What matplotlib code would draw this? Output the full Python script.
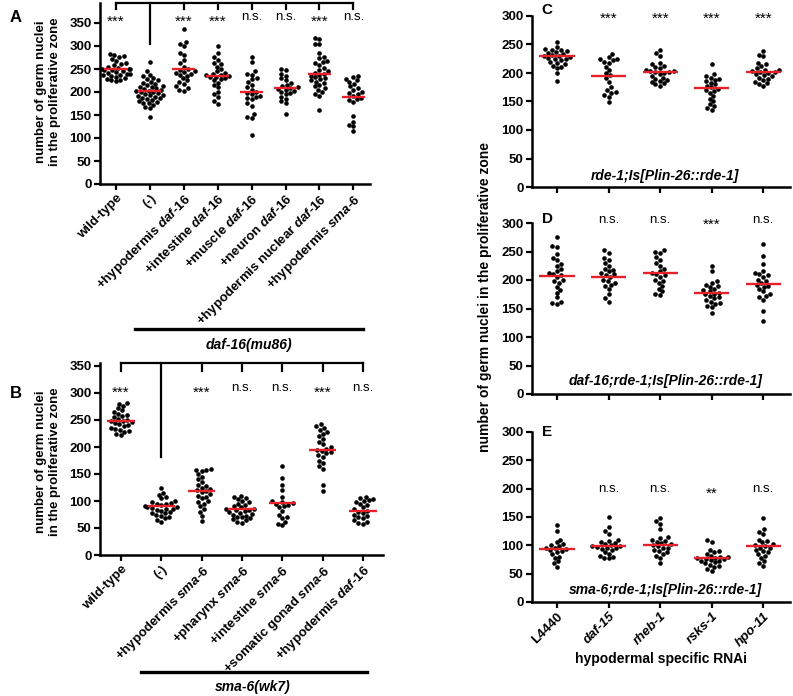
import matplotlib
matplotlib.use('Agg')
import matplotlib.pyplot as plt
import seaborn as sns
import pandas as pd
import warnings
warnings.filterwarnings('ignore')

plt.rcParams['font.family'] = ['Liberation Sans', 'DejaVu Sans']
plt.rcParams['mathtext.fontset'] = 'custom'
plt.rcParams['mathtext.rm'] = 'Liberation Sans:bold'
plt.rcParams['mathtext.it'] = 'Liberation Sans:italic:bold'
plt.rcParams['mathtext.bf'] = 'Liberation Sans:bold'

# ---------------- data ----------------
A_labels = ['wild-type', '(-)', '+hypodermis $\\mathit{daf}$-$\\mathit{16}$',
            '+intestine $\\mathit{daf}$-$\\mathit{16}$', '+muscle $\\mathit{daf}$-$\\mathit{16}$',
            '+neuron $\\mathit{daf}$-$\\mathit{16}$', '+hypodermis nuclear $\\mathit{daf}$-$\\mathit{16}$',
            '+hypodermis $\\mathit{sma}$-$\\mathit{6}$']
A_values = [
    [283, 280, 278, 276, 272, 268, 262, 260, 258, 255, 253, 251, 250, 249, 248, 247, 246, 244, 242, 240, 238, 236, 235, 233, 231, 229, 227, 225, 223, 240],
    [265, 246, 238, 235, 230, 228, 225, 222, 220, 218, 215, 213, 211, 210, 208, 206, 205, 203, 202, 200, 199, 197, 196, 194, 193, 191, 190, 188, 187, 185, 183, 181, 179, 177, 175, 172, 168, 165, 145],
    [337, 309, 305, 300, 285, 280, 270, 262, 255, 250, 248, 246, 244, 242, 240, 238, 235, 230, 225, 222, 218, 212, 205, 203, 208],
    [300, 285, 275, 270, 262, 260, 255, 250, 245, 242, 240, 238, 236, 235, 233, 232, 230, 228, 225, 220, 215, 210, 200, 195, 190, 180, 173],
    [277, 265, 245, 240, 238, 230, 228, 222, 215, 210, 205, 200, 198, 195, 192, 190, 188, 185, 175, 170, 152, 145, 143, 106],
    [250, 248, 240, 235, 230, 225, 220, 215, 212, 210, 208, 206, 205, 203, 200, 198, 195, 190, 185, 180, 175, 152],
    [318, 316, 305, 304, 285, 275, 273, 268, 265, 262, 258, 252, 248, 245, 242, 240, 238, 235, 232, 230, 228, 225, 222, 220, 215, 212, 208, 205, 200, 195, 192, 160],
    [235, 233, 228, 225, 222, 218, 212, 208, 205, 200, 197, 195, 192, 188, 185, 182, 178, 148, 135, 128, 125, 115],
]
A_means = [250, 202, 250, 234, 201, 209, 239, 189]
A_sig = ['***', '', '***', '***', 'n.s.', 'n.s.', '***', 'n.s.']

B_labels = ['wild-type', '(-)', '+hypodermis $\\mathit{sma}$-$\\mathit{6}$', '+pharynx $\\mathit{sma}$-$\\mathit{6}$',
            '+intestine $\\mathit{sma}$-$\\mathit{6}$', '+somatic gonad $\\mathit{sma}$-$\\mathit{6}$',
            '+hypodermis $\\mathit{daf}$-$\\mathit{16}$']
B_values = [
    [282, 280, 276, 272, 268, 265, 262, 260, 257, 255, 252, 250, 249, 248, 246, 244, 242, 240, 238, 236, 234, 232, 230, 228, 225, 222],
    [125, 115, 112, 108, 105, 100, 98, 96, 95, 94, 92, 90, 89, 88, 87, 86, 85, 84, 82, 80, 78, 77, 75, 73, 70, 68, 65, 62],
    [160, 158, 157, 155, 150, 145, 140, 135, 130, 128, 125, 122, 120, 118, 116, 113, 110, 108, 105, 100, 98, 95, 90, 85, 80, 72, 63],
    [110, 108, 106, 104, 100, 98, 95, 92, 90, 88, 86, 85, 84, 83, 82, 80, 78, 76, 75, 73, 71, 70, 68, 66, 64, 62, 60],
    [165, 143, 130, 120, 108, 100, 98, 96, 95, 93, 90, 88, 82, 75, 70, 68, 62, 58, 55],
    [242, 238, 236, 232, 228, 225, 220, 215, 210, 205, 200, 197, 195, 193, 190, 188, 185, 182, 175, 170, 165, 160, 130, 118],
    [108, 105, 103, 101, 100, 98, 95, 92, 88, 85, 82, 80, 78, 75, 72, 70, 68, 65, 62, 60, 58],
]
B_means = [249, 90, 118, 85, 96, 195, 82]
B_sig = ['***', '', '***', 'n.s.', 'n.s.', '***', 'n.s.']

RNAi_labels = ['L4440', 'daf-15', 'rheb-1', 'rsks-1', 'hpo-11']
RNAi_italic = [False, True, True, True, True]

C_values = [
    [255, 245, 242, 240, 240, 238, 236, 235, 233, 232, 230, 229, 228, 227, 225, 224, 222, 220, 218, 215, 213, 210, 208, 200, 186],
    [233, 228, 225, 224, 222, 220, 218, 210, 205, 200, 197, 192, 185, 175, 170, 167, 165, 162, 158, 149],
    [240, 235, 230, 218, 215, 212, 210, 208, 205, 204, 203, 202, 201, 200, 198, 195, 192, 190, 188, 186, 185, 182, 180, 178],
    [215, 198, 195, 192, 190, 188, 186, 183, 180, 178, 175, 172, 170, 168, 165, 160, 155, 150, 145, 142, 138, 135],
    [238, 232, 230, 218, 215, 212, 208, 206, 205, 203, 202, 201, 200, 198, 196, 195, 192, 190, 188, 185, 182, 180, 178],
]
C_means = [229, 195, 202, 173, 202]
C_sig = ['', '***', '***', '***', '***']

D_values = [
    [275, 260, 258, 245, 238, 235, 228, 225, 220, 215, 212, 210, 208, 205, 200, 198, 195, 188, 183, 178, 170, 162, 160, 158],
    [252, 248, 238, 235, 230, 225, 220, 218, 215, 212, 210, 208, 205, 200, 198, 195, 192, 190, 185, 175, 168, 162],
    [252, 250, 248, 240, 235, 230, 225, 220, 215, 212, 210, 208, 205, 200, 198, 195, 190, 185, 180, 175, 173],
    [225, 215, 198, 195, 192, 190, 188, 185, 182, 180, 178, 176, 175, 172, 170, 168, 165, 162, 160, 158, 155, 152, 142],
    [263, 242, 228, 215, 212, 210, 208, 205, 200, 198, 195, 192, 190, 188, 185, 180, 175, 172, 170, 165, 145, 128],
]
D_means = [207, 206, 212, 178, 193]
D_sig = ['', 'n.s.', 'n.s.', '***', 'n.s.']

E_values = [
    [135, 126, 110, 105, 102, 100, 98, 96, 95, 94, 92, 90, 88, 85, 80, 78, 72, 68, 62],
    [150, 132, 125, 120, 110, 108, 106, 104, 102, 100, 99, 98, 97, 96, 95, 94, 92, 88, 85, 82, 80, 78, 77],
    [148, 142, 138, 128, 115, 112, 110, 108, 106, 104, 102, 100, 98, 96, 95, 92, 90, 88, 85, 82, 78, 68],
    [110, 106, 92, 90, 88, 85, 82, 80, 79, 78, 77, 76, 75, 74, 73, 72, 70, 68, 66, 64, 62, 58, 55],
    [149, 128, 124, 120, 110, 108, 105, 102, 100, 98, 96, 95, 92, 90, 88, 85, 82, 78, 72, 68, 64],
]
E_means = [94, 98, 101, 78, 98]
E_sig = ['', 'n.s.', 'n.s.', '**', 'n.s.']

# ---------------- layout ----------------
W, H = 793, 696
fig = plt.figure(figsize=(W / 100, H / 100), dpi=100)


def add_ax(x0, x1, y_zero, px_per_unit, ymax):
    y_top = y_zero - ymax * px_per_unit
    return fig.add_axes([x0 / W, 1 - y_zero / H, (x1 - x0) / W, (y_zero - y_top) / H])


RED = '#e8202a'
TICKFS = 9.5


def panel(ax, values, means, sig, sig_y, ymax, yticks, xlim):
    g, v = [], []
    for i, vals in enumerate(values):
        g += [i] * len(vals)
        v += vals
    df = pd.DataFrame({'g': g, 'v': v})
    sns.swarmplot(data=df, x='g', y='v', ax=ax, color='black', size=3.3,
                  linewidth=0, order=list(range(len(values))), zorder=3)
    for i, m in enumerate(means):
        ax.plot([i - 0.34, i + 0.34], [m, m], color=RED, lw=1.7, zorder=4,
                solid_capstyle='butt')
    for i, s in enumerate(sig):
        if s == 'n.s.':
            ax.annotate(s, (i, sig_y), ha='center', va='center', fontsize=9.5,
                        annotation_clip=False)
        elif s:
            ax.annotate(s, (i, sig_y), xytext=(0, -3.5), textcoords='offset points',
                        ha='center', va='center', fontsize=11,
                        annotation_clip=False)
    ax.set_xlim(*xlim)
    ax.set_ylim(0, ymax)
    ax.set_yticks(yticks)
    ax.set_xticks(range(len(values)))
    ax.set_xlabel('')
    ax.set_ylabel('')
    for s in ['top', 'right']:
        ax.spines[s].set_visible(False)
    for s in ['left', 'bottom']:
        ax.spines[s].set_linewidth(1.8)
    ax.tick_params(axis='both', direction='out', length=4, width=1.6,
                   labelsize=TICKFS, pad=2)
    for lab in ax.get_yticklabels():
        lab.set_fontweight('bold')
    ax.patch.set_alpha(0)


# Panel A
axA = add_ax(100, 370, 184, 0.46, 393)
panel(axA, A_values, A_means, A_sig, 363, 393, range(0, 351, 50), (-0.47, 7.49))
axA.set_xticklabels(A_labels, rotation=45, ha='right', rotation_mode='anchor',
                    fontweight='bold', fontsize=TICKFS)
axA.plot([0, 7], [393, 393], color='black', lw=1.6, clip_on=False)
for i in range(8):
    axA.plot([i, i], [393, 304 if i == 1 else 380], color='black', lw=1.6, clip_on=False)

# Panel B
axB = add_ax(100, 383, 555, 0.54, 355)
panel(axB, B_values, B_means, B_sig, 309, 355, range(0, 351, 50), (-0.52, 6.5))
axB.set_xticklabels(B_labels, rotation=45, ha='right', rotation_mode='anchor',
                    fontweight='bold', fontsize=TICKFS)
axB.plot([0, 6], [355, 355], color='black', lw=1.6, clip_on=False)
for i in range(7):
    axB.plot([i, i], [355, 182 if i == 1 else 340], color='black', lw=1.6, clip_on=False)

# Panels C, D, E
axC = add_ax(532, 790, 187, 0.57, 300)
panel(axC, C_values, C_means, C_sig, 303, 300, range(0, 301, 50), (-0.485, 4.52))
axD = add_ax(532, 790, 394, 0.57, 300)
panel(axD, D_values, D_means, D_sig, 306, 300, range(0, 301, 50), (-0.485, 4.52))
axE = add_ax(532, 790, 602, 0.567, 300)
panel(axE, E_values, E_means, E_sig, 200, 300, range(0, 301, 50), (-0.485, 4.52))
axC.set_xticklabels([])
axD.set_xticklabels([])
axE.set_xticklabels(RNAi_labels, rotation=45, ha='right', rotation_mode='anchor',
                    fontweight='bold', fontsize=TICKFS)
for lab, it in zip(axE.get_xticklabels(), RNAi_italic):
    if it:
        lab.set_fontstyle('italic')

for ax, txt, ty in [(axC, 'rde-1;Is[Plin-26::rde-1]', 19),
                    (axD, 'daf-16;rde-1;Is[Plin-26::rde-1]', 23),
                    (axE, 'sma-6;rde-1;Is[Plin-26::rde-1]', 21)]:
    ax.text(2.1, ty, txt, ha='center', va='center', fontsize=10,
            fontweight='bold', fontstyle='italic')

for ax, letter, ly in [(axC, 'C', 310), (axD, 'D', 307), (axE, 'E', 300)]:
    ax.text(-0.19, ly, letter, ha='center', va='center', fontsize=11,
            fontweight='bold', clip_on=False)

axE.set_xlabel('hypodermal specific RNAi', fontsize=10, fontweight='bold', labelpad=2)

# overlay in pixel coordinates for figure-level annotations
ov = fig.add_axes([0, 0, 1, 1], zorder=-1)
ov.set_xlim(0, W)
ov.set_ylim(H, 0)
ov.axis('off')
ov.text(10, 18, 'A', fontsize=12, fontweight='bold', ha='left', va='center')
ov.text(10, 393, 'B', fontsize=12, fontweight='bold', ha='left', va='center')
ov.text(48, 92, 'number of germ nuclei\nin the proliferative zone', rotation=90,
        ha='center', va='center', fontsize=9.5, fontweight='bold', linespacing=1.25)
ov.text(48, 462, 'number of germ nuclei\nin the proliferative zone', rotation=90,
        ha='center', va='center', fontsize=9.5, fontweight='bold', linespacing=1.25)
ov.text(485, 297, 'number of germ nuclei in the proliferative zone', rotation=90,
        ha='center', va='center', fontsize=10, fontweight='bold')
ov.plot([135, 363], [329, 329], color='black', lw=2.4)
ov.text(249, 345, 'daf-16(mu86)', ha='center', va='center', fontsize=10,
        fontweight='bold', fontstyle='italic')
ov.plot([141, 367], [672, 672], color='black', lw=2.4)
ov.text(253, 687, 'sma-6(wk7)', ha='center', va='center', fontsize=10,
        fontweight='bold', fontstyle='italic')

fig.savefig('out.png', dpi=100)
